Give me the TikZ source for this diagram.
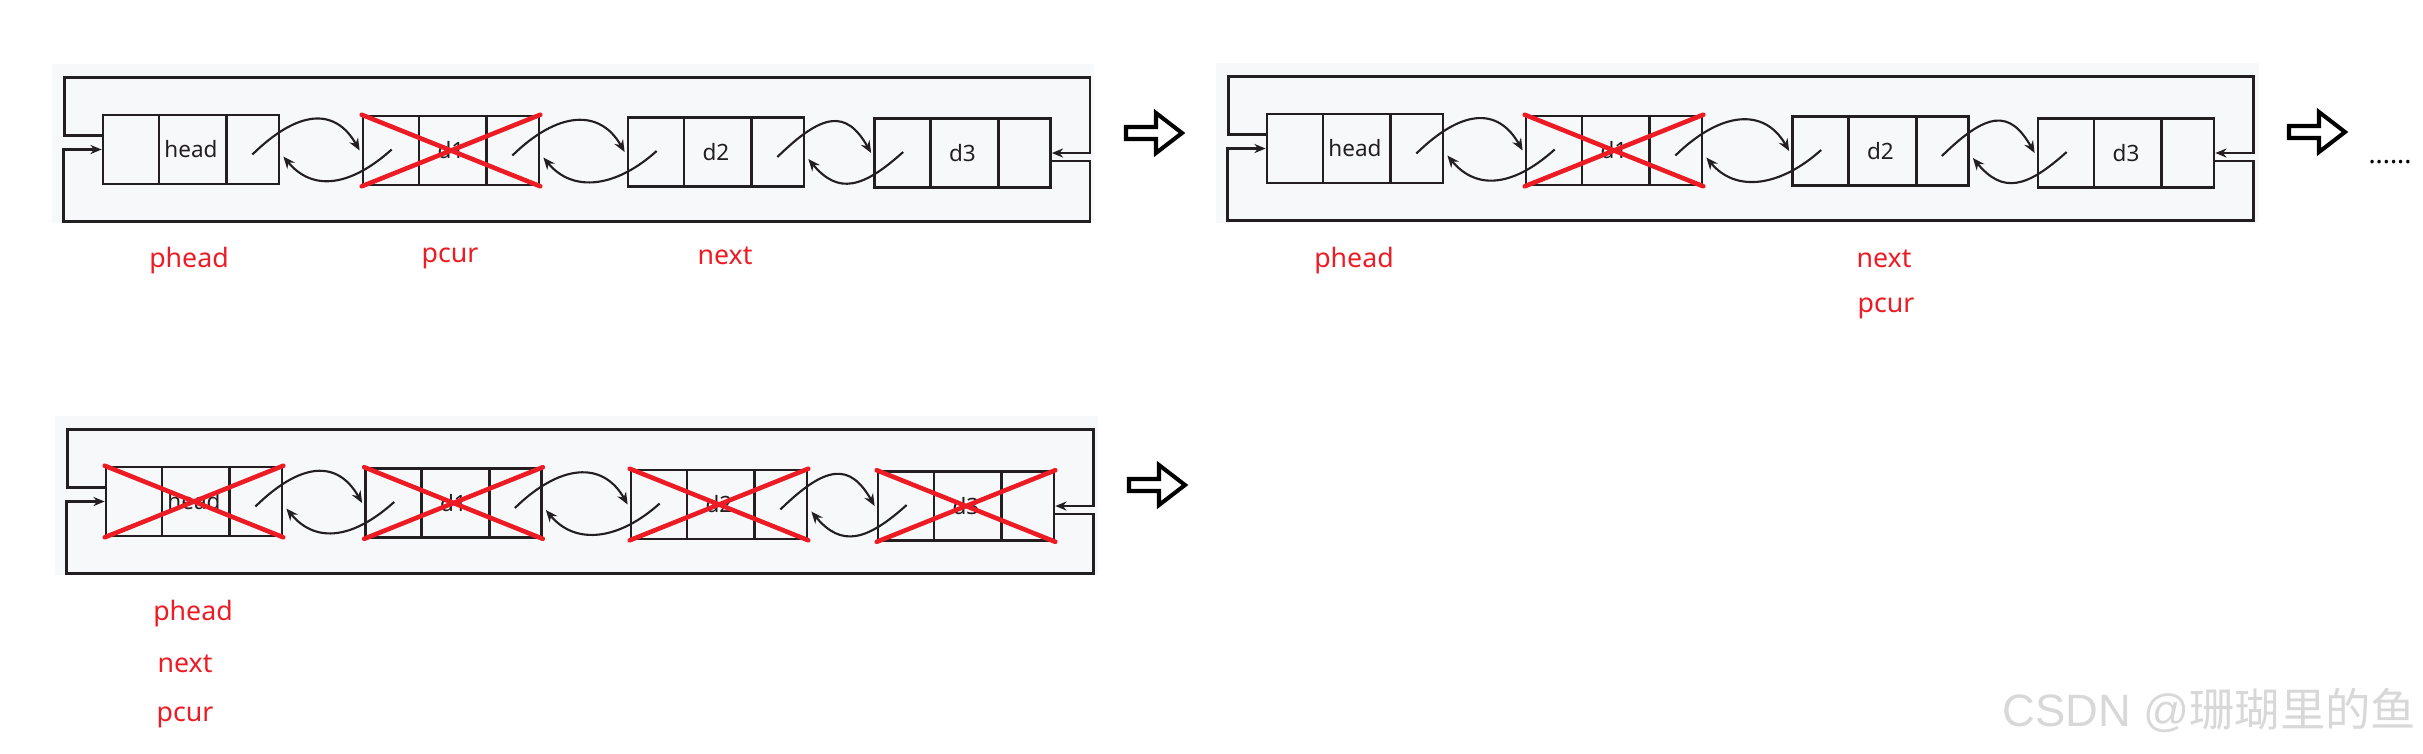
\documentclass[tikz,border=0pt]{standalone}
\usepackage{fontspec}
\setmainfont{Noto Sans}
\newfontfamily\wmlatin{Liberation Sans}
\newfontfamily\wmcjk{Noto Sans CJK SC}
\usetikzlibrary{arrows.meta,calc,backgrounds}
\definecolor{panelbg}{RGB}{247,248,250}
\definecolor{crossred}{RGB}{237,28,36}
\definecolor{inkblack}{RGB}{35,31,32}
\definecolor{markgray}{RGB}{216,216,216}
\tikzset{
  listnode/.style={rectangle,draw=inkblack,line width=0.75pt,minimum width=1.76cm,minimum height=0.69cm,
    inner sep=0pt,font=\fontsize{6.4}{7}\selectfont,text=inkblack},
  cellline/.style={draw=inkblack,line width=0.75pt},
  linkarr/.style={-{Stealth[length=3.4pt,width=2.8pt]},line width=0.6pt,color=inkblack},
  looparr/.style={-{Stealth[length=3.2pt,width=2.6pt]},line width=0.7pt,color=inkblack},
  redx/.style={line width=1.3pt,color=crossred,line cap=round},
  ptrlabel/.style={font=\fontsize{7.6}{9}\selectfont,text=crossred,inner sep=0pt,anchor=base},
  hollowarr/.style={draw=black,line width=1.15pt,fill=white,line join=miter},
  panelfill/.style={fill=panelbg}
}

\begin{document}
\begin{tikzpicture}[x=0.01cm,y=-0.01cm]
  \useasboundingbox (0,0) rectangle (2423,753);

  %% Panel backgrounds
  \fill[panelfill] (52,64) rectangle (1094,223);
  \fill[panelfill] (1216,63) rectangle (2259,223);
  \fill[panelfill] (55,416) rectangle (1098,575);

  %% Panel 1
  \node[listnode] (head1)   at (191,149.5) {head};
  \node[listnode] (dOne1)   at (451,150.5) {d1};
  \node[listnode] (dTwo1)   at (716,152)   {d2};
  \node[listnode] (dThree1) at (962.5,153) {d3};

  %% Panel 2
  \node[listnode] (head2)   at (1355,148.5) {head};
  \node[listnode] (dOne2)   at (1614,150.5) {d1};
  \node[listnode] (dTwo2)   at (1880.5,151) {d2};
  \node[listnode] (dThree2) at (2126,153)   {d3};

  %% Panel 3
  \node[listnode] (head3)   at (194,501.5) {head};
  \node[listnode] (dOne3)   at (453.5,503) {d1};
  \node[listnode] (dTwo3)   at (719,504.5) {d2};
  \node[listnode] (dThree3) at (966,506)   {d3};

  %% Cell dividers
  \foreach \n in {head1,dOne1,dTwo1,dThree1,head2,dOne2,dTwo2,dThree2,head3,dOne3,dTwo3,dThree3}
    \foreach \f in {0.32,0.70}
      \draw[cellline] ($(\n.north west)!\f!(\n.north east)$) -- ($(\n.south west)!\f!(\n.south east)$);

  %% prev / next links
  \foreach \a/\b in {head1/dOne1,dOne1/dTwo1,dTwo1/dThree1,head2/dOne2,dOne2/dTwo2,dTwo2/dThree2,head3/dOne3,dOne3/dTwo3,dTwo3/dThree3}{
    \draw[linkarr] ($(\a.east)+(-28,5)$) .. controls +(45,-44) and +(-25,-44) .. ($(\b.west)+(-2,0)$);
    \draw[linkarr] ($(\b.west)+(30,-1)$) .. controls +(-40,36) and +(30,36) .. ($(\a.east)+(3,7)$);
  }

  %% Circular loops
  \foreach \p in {1,2,3}{
    \coordinate (topL\p) at ($(head\p.west)+(-37,-72)$);
    \coordinate (topR\p) at ($(dThree\p.east |- topL\p)+(38,0)$);
    \coordinate (botL\p) at ($(head\p.west)+(-38,72)$);
    \coordinate (botR\p) at ($(dThree\p.east |- botL\p)+(38,0)$);
    \draw[looparr] ($(head\p.west)+(0,-14)$) -| (topL\p) -- (topR\p) |- (dThree\p.east);
    \draw[looparr] ($(dThree\p.east)+(0,8)$) -| (botR\p) -- (botL\p) |- (head\p.west);
  }

  %% Freed nodes
  \foreach \n in {dOne1,dOne2,head3,dOne3,dTwo3,dThree3}
    \draw[redx] (\n.north west) -- (\n.south east) (\n.south west) -- (\n.north east);

  %% Pointer labels
  \node[ptrlabel] (pHead1) at (189,267)  {phead};
  \node[ptrlabel] (pCur1)  at (450,262)  {pcur};
  \node[ptrlabel] (pNext1) at (725,264)  {next};
  \node[ptrlabel] (pHead2) at (1354,267) {phead};
  \node[ptrlabel] (pNext2) at (1884,267) {next};
  \node[ptrlabel] (pCur2)  at (1886,312) {pcur};
  \node[ptrlabel] (pHead3) at (193,620)  {phead};
  \node[ptrlabel] (pNext3) at (185,672)  {next};
  \node[ptrlabel] (pCur3)  at (185,721)  {pcur};

  %% Step arrows
  \foreach \ax/\ay in {1126/133,2289/132,1129/485}
    \draw[hollowarr] (\ax,\ay) ++(0,-6) -- ++(30,0) -- ++(0,-14) -- ++(26,20) -- ++(-26,20) -- ++(0,-14) -- ++(-30,0) -- cycle;
  \node[font=\fontsize{7.6}{9}\selectfont,inner sep=0pt,anchor=base] (dots) at (2390,163) {......};

  %% Watermark
  \node[anchor=east,text=markgray,inner sep=0pt] (wmark) at (2417,710)
    {\fontsize{12.9}{14}\selectfont\wmlatin CSDN @\wmcjk 珊瑚里的鱼};
\end{tikzpicture}
\end{document}
